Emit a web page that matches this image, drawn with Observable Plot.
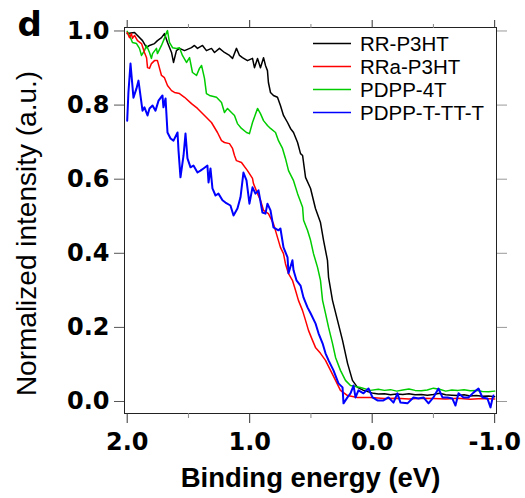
<!DOCTYPE html>
<html>
<head>
<meta charset="utf-8">
<script src="https://cdn.jsdelivr.net/npm/d3@7"></script>
<script src="https://cdn.jsdelivr.net/npm/@observablehq/plot@0.6"></script>
<style>
  html, body { margin: 0; padding: 0; background: #fff; }
  #chart svg { display: block; }
</style>
</head>
<body>
<div id="chart"></div>
<script>
// ---- data (binding energy eV, normalized intensity) ----
const seriesNames = ["RR-P3HT", "RRa-P3HT", "PDPP-4T", "PDPP-T-TT-T"];
const seriesColors = ["#000000", "#ff0000", "#00cc00", "#0000ff"];

const rrP3HT = [
  [2.0,0.993],[1.94,0.996],[1.916,0.988],[1.875,0.974],[1.842,0.955],[1.818,0.961],[1.777,0.966],[1.753,0.974],
  [1.72,0.982],[1.696,0.993],[1.671,0.969],[1.638,0.942],[1.622,0.915],[1.598,0.947],[1.573,0.953],[1.532,0.947],
  [1.475,0.955],[1.451,0.961],[1.426,0.953],[1.385,0.961],[1.353,0.947],[1.312,0.953],[1.287,0.942],[1.247,0.953],
  [1.206,0.942],[1.165,0.934],[1.14,0.926],[1.108,0.953],[1.083,0.934],[1.059,0.928],[1.018,0.92],[0.977,0.926],
  [0.961,0.901],[0.936,0.926],[0.912,0.901],[0.887,0.928],[0.871,0.907],[0.855,0.893],[0.847,0.861],[0.83,0.834],
  [0.806,0.826],[0.773,0.821],[0.749,0.799],[0.724,0.772],[0.691,0.753],[0.667,0.737],[0.642,0.726],[0.609,0.699],
  [0.585,0.669],[0.568,0.664],[0.544,0.605],[0.503,0.575],[0.463,0.521],[0.422,0.483],[0.397,0.435],[0.365,0.381],
  [0.356,0.335],[0.324,0.273],[0.283,0.219],[0.242,0.165],[0.201,0.103],[0.161,0.057],[0.12,0.038],[0.071,0.03],
  [-0.01,0.022],[-0.05,0.02],[-0.1,0.021],[-0.15,0.018],[-0.2,0.02],[-0.25,0.019],[-0.3,0.021],[-0.35,0.018],
  [-0.4,0.019],[-0.45,0.017],[-0.5,0.019],[-0.55,0.022],[-0.6,0.018],[-0.65,0.017],[-0.7,0.016],[-0.75,0.018],
  [-0.8,0.015],[-0.85,0.016],[-0.9,0.014],[-0.95,0.015],[-1.0,0.013]
];

const rraP3HT = [
  [2.0,0.996],[1.981,0.982],[1.965,0.993],[1.957,0.98],[1.94,0.988],[1.916,0.974],[1.883,0.966],[1.859,0.942],
  [1.842,0.928],[1.834,0.901],[1.818,0.899],[1.802,0.912],[1.777,0.92],[1.753,0.92],[1.72,0.88],[1.696,0.874],
  [1.671,0.853],[1.638,0.839],[1.614,0.834],[1.573,0.831],[1.532,0.821],[1.475,0.804],[1.426,0.791],[1.369,0.772],
  [1.312,0.753],[1.263,0.726],[1.23,0.704],[1.206,0.699],[1.165,0.696],[1.14,0.683],[1.124,0.664],[1.108,0.65],
  [1.067,0.645],[1.018,0.623],[0.977,0.602],[0.969,0.588],[0.936,0.561],[0.912,0.543],[0.887,0.516],[0.847,0.507],
  [0.806,0.48],[0.773,0.443],[0.749,0.416],[0.724,0.399],[0.708,0.372],[0.683,0.345],[0.651,0.327],[0.626,0.3],
  [0.602,0.273],[0.569,0.246],[0.544,0.219],[0.52,0.192],[0.487,0.165],[0.463,0.146],[0.422,0.13],[0.381,0.111],
  [0.34,0.084],[0.299,0.057],[0.259,0.03],[0.201,0.016],[0.12,0.011],[0.014,0.011],[-0.1,0.008],[-0.2,0.009],
  [-0.3,0.007],[-0.4,0.009],[-0.5,0.008],[-0.6,0.007],[-0.7,0.009],[-0.8,0.006],[-0.9,0.008],[-1.0,0.007]
];

const pdpp4T = [
  [2.0,0.999],[1.981,0.988],[1.957,0.969],[1.924,0.966],[1.9,0.953],[1.883,0.934],[1.859,0.947],[1.842,0.961],
  [1.818,0.942],[1.802,0.926],[1.793,0.939],[1.761,0.953],[1.753,0.939],[1.72,0.961],[1.696,0.98],[1.679,0.996],
  [1.671,1.001],[1.655,0.969],[1.63,0.955],[1.598,0.953],[1.573,0.955],[1.549,0.934],[1.516,0.915],[1.491,0.928],
  [1.467,0.888],[1.434,0.88],[1.41,0.899],[1.393,0.907],[1.369,0.872],[1.353,0.831],[1.328,0.826],[1.271,0.821],
  [1.23,0.807],[1.206,0.78],[1.181,0.791],[1.149,0.78],[1.124,0.772],[1.1,0.75],[1.067,0.737],[1.026,0.726],
  [1.002,0.723],[0.977,0.753],[0.936,0.791],[0.912,0.777],[0.887,0.758],[0.855,0.745],[0.83,0.737],[0.789,0.726],
  [0.765,0.704],[0.732,0.683],[0.708,0.656],[0.683,0.623],[0.642,0.596],[0.609,0.561],[0.568,0.524],[0.56,0.489],
  [0.528,0.462],[0.503,0.435],[0.479,0.399],[0.446,0.362],[0.422,0.327],[0.405,0.273],[0.381,0.238],[0.356,0.2],
  [0.324,0.157],[0.299,0.119],[0.259,0.084],[0.218,0.057],[0.177,0.043],[0.096,0.038],[0.014,0.03],[-0.05,0.033],
  [-0.1,0.03],[-0.15,0.032],[-0.2,0.028],[-0.25,0.031],[-0.3,0.034],[-0.35,0.03],[-0.4,0.029],[-0.45,0.031],
  [-0.5,0.036],[-0.55,0.033],[-0.6,0.028],[-0.65,0.031],[-0.7,0.03],[-0.75,0.032],[-0.8,0.029],[-0.85,0.03],
  [-0.9,0.027],[-0.95,0.026],[-1.0,0.028]
];

const pdppTTTT = [
  [2.0,0.758],[1.99,0.834],[1.973,0.912],[1.949,0.82],[1.924,0.845],[1.908,0.866],[1.875,0.785],[1.859,0.794],
  [1.834,0.772],[1.818,0.791],[1.793,0.799],[1.769,0.785],[1.744,0.812],[1.712,0.826],[1.704,0.794],[1.687,0.818],
  [1.671,0.726],[1.646,0.71],[1.622,0.704],[1.589,0.726],[1.581,0.677],[1.565,0.605],[1.54,0.664],[1.524,0.723],
  [1.508,0.656],[1.483,0.632],[1.459,0.637],[1.426,0.618],[1.402,0.623],[1.377,0.629],[1.345,0.637],[1.336,0.591],
  [1.32,0.629],[1.304,0.575],[1.279,0.556],[1.255,0.561],[1.222,0.543],[1.198,0.537],[1.157,0.529],[1.132,0.502],
  [1.1,0.521],[1.075,0.551],[1.051,0.618],[1.026,0.597],[1.002,0.534],[0.977,0.578],[0.953,0.561],[0.928,0.57],
  [0.896,0.51],[0.871,0.507],[0.855,0.534],[0.83,0.516],[0.806,0.47],[0.765,0.462],[0.749,0.467],[0.724,0.416],
  [0.691,0.389],[0.683,0.346],[0.651,0.381],[0.642,0.354],[0.618,0.327],[0.585,0.313],[0.561,0.281],[0.528,0.254],
  [0.503,0.238],[0.463,0.211],[0.438,0.184],[0.405,0.157],[0.381,0.13],[0.356,0.111],[0.316,0.084],[0.275,0.049],
  [0.242,0.038],[0.234,-0.005],[0.202,0.011],[0.177,0.022],[0.152,0.043],[0.136,0.011],[0.112,0.03],[0.071,0.022],
  [0.03,0.035],[-0.003,0.011],[-0.043,0.003],[-0.092,0.003],[-0.133,0.011],[-0.174,-0.003],[-0.206,0.022],[-0.231,-0.003],
  [-0.288,-0.005],[-0.337,0.011],[-0.378,0.008],[-0.419,0.011],[-0.46,-0.005],[-0.5,0.011],[-0.541,0.035],[-0.574,0.011],
  [-0.615,0.011],[-0.655,0.008],[-0.68,-0.011],[-0.705,0.022],[-0.745,0.011],[-0.786,0.011],[-0.827,0.024],[-0.868,0.035],
  [-0.9,0.011],[-0.941,0.008],[-0.966,-0.016],[-0.982,0.008],[-0.99,0.016]
];

const xMajorTicks = [2.0, 1.0, 0.0, -1.0];
const xMinorTicks = [1.5, 0.5, -0.5];
const yTicks = [0.0, 0.2, 0.4, 0.6, 0.8, 1.0];
const xTitle = "Binding energy (eV)";
const yTitle = "Normalized intensity (a.u.)";
const panelLabel = "d";

// ---- build table ----
const seriesData = [rrP3HT, rraP3HT, pdpp4T, pdppTTTT];
const drawOrder = [0, 2, 1, 3];
const rows = drawOrder.flatMap(i => seriesData[i].map(([e, v]) => ({series: seriesNames[i], e, v})));

const W = 525, H = 498;
const mL = 124, mR = 29, mT = 27, mB = 85;

const chart = Plot.plot({
  width: W,
  height: H,
  marginLeft: mL,
  marginRight: mR,
  marginTop: mT,
  marginBottom: mB,
  style: {fontFamily: "DejaVu Sans", fontWeight: "bold", fontSize: "24px", color: "#000", background: "#fff", overflow: "visible"},
  x: {domain: [2.022, -1.015]},
  y: {domain: [-0.0324, 1.0094]},
  color: {domain: seriesNames, range: seriesColors},
  marks: [
    Plot.line(rows, {x: "e", y: "v", z: "series", stroke: "series", strokeWidth: d => d.series === "PDPP-T-TT-T" ? 2 : 1.5}),
    Plot.frame({stroke: "#222", strokeWidth: 1}),
    Plot.axisX({anchor: "bottom", ticks: xMajorTicks, tickSize: 10, tickPadding: 9, tickFormat: d => d.toFixed(1), label: null, stroke: "#333"}),
    Plot.axisX({anchor: "bottom", ticks: xMinorTicks, tickSize: 5, tickFormat: () => "", label: null, stroke: "#888"}),
    Plot.axisX({anchor: "top", ticks: xMajorTicks, tickSize: 8, tickFormat: () => "", label: null, stroke: "#333"}),
    Plot.axisX({anchor: "top", ticks: xMinorTicks, tickSize: 4, tickFormat: () => "", label: null, stroke: "#888"}),
    Plot.axisY({anchor: "left", ticks: yTicks, tickSize: 10, tickPadding: 5, tickFormat: d => d.toFixed(1), label: null, stroke: "#555"}),
    Plot.axisY({anchor: "right", ticks: yTicks, tickSize: 10, tickFormat: () => "", label: null, stroke: "#999"}),
    Plot.text([xTitle], {frameAnchor: "bottom", dy: 65, lineAnchor: "middle", fontSize: 27.5, fontWeight: "bold", fontFamily: "Liberation Sans", fill: "#000"}),
    Plot.text([yTitle], {frameAnchor: "left", textAnchor: "middle", rotate: -90, dx: -97, dy: 13, lineAnchor: "middle", fontSize: 28, fontWeight: "normal", fontFamily: "Liberation Sans", fill: "#000"}),
    Plot.text([panelLabel], {frameAnchor: "top-left", dx: -107, dy: -2, textAnchor: "start", lineAnchor: "middle", fontSize: 34, fontWeight: "bold", fontFamily: "DejaVu Sans", fill: "#000"})
  ]
});

document.getElementById("chart").appendChild(chart);

// ---- legend (inside plot, upper right) ----
const svg = d3.select(chart);
const lg = svg.append("g").attr("class", "legend").attr("text-anchor", "start");
seriesNames.forEach((name, i) => {
  const y = 43.5 + i * 23;
  lg.append("line").attr("x1", 313).attr("x2", 351).attr("y1", y).attr("y2", y)
    .attr("stroke", seriesColors[i]).attr("stroke-width", 1.6);
  lg.append("text").attr("x", 360).attr("y", y).attr("dy", "0.35em")
    .attr("text-anchor", "start")
    .attr("font-family", "Liberation Sans").attr("font-weight", "normal").attr("font-size", 20.5)
    .attr("fill", "#000").text(name);
});
</script>
</body>
</html>
